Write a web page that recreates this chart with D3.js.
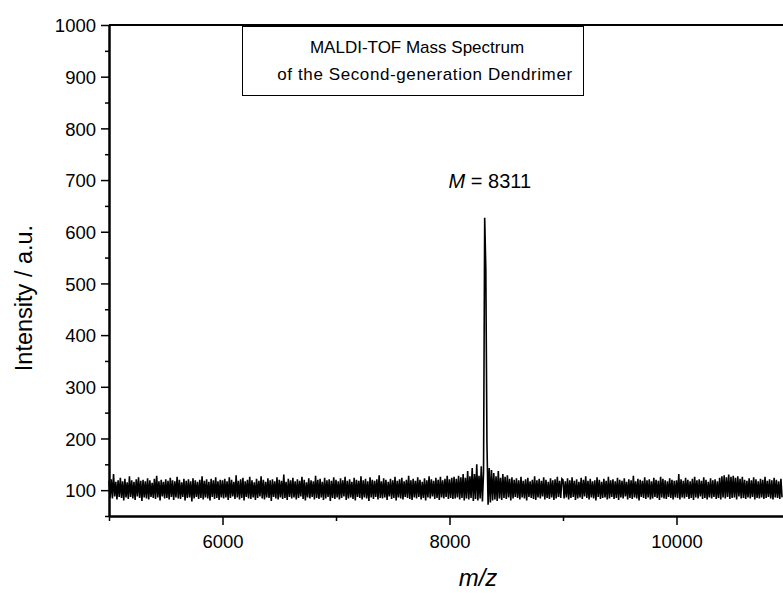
<!DOCTYPE html>
<html lang="en">
<head>
  <meta charset="UTF-8">
  <title>MALDI-TOF Mass Spectrum</title>
  <style>
    body { margin: 0; background: #fff; }
    svg { display: block; font-family: "Liberation Sans", Arial, Helvetica, sans-serif; }
    .axis path, .axis line { stroke: #000; }
    .axis path { stroke-width: 2px; }
    .axis line { stroke-width: 1.5px; }
    .axis text { fill: #000; font-size: 18.5px; }
    .trace { fill: none; stroke: #000; stroke-width: 1.6px; stroke-linejoin: miter; }
  </style>
</head>
<body>
<script src="https://d3js.org/d3.v7.min.js"></script>
<script>
// spectrum, one intensity every 10 m/z, split per 1000 m/z
const mzStart = 5000
const mzStep = 10

const mz5000 = [
  118,86,121,84,131,88,116,82,119,87,124,85,117,80,122,86,115,83,127,87,
  119,84,116,81,121,88,125,85,118,79,120,86,117,84,123,82,119,87,114,85,
  122,83,128,86,117,80,120,88,116,84,121,85,118,82,124,87,119,81,117,86,
  126,84,120,83,115,87,122,80,118,85,121,86,117,78,123,84,119,87,116,83,
  120,85,127,82,118,86,121,84,116,80,122,87,119,83,125,85,117,81,120,86
]
const mz6000 = [
  119,84,122,86,117,81,125,85,120,88,116,83,129,86,118,82,121,85,124,80,
  117,87,120,84,126,83,119,86,115,81,122,85,118,88,127,84,120,82,116,86,
  123,85,119,79,121,87,117,84,125,82,120,86,118,83,130,85,116,81,122,87,
  119,84,124,86,117,82,121,85,118,88,126,83,120,80,115,86,123,84,119,87,
  117,82,128,85,120,83,122,86,116,81,124,84,119,87,121,79,118,85,125,83
]
const mz7000 = [
  120,86,117,82,123,85,119,88,126,81,118,84,121,86,116,83,124,80,120,87,
  118,85,127,82,119,86,122,84,117,79,125,86,120,83,118,87,121,82,129,85,
  117,84,123,86,120,81,116,88,122,83,119,85,126,80,118,86,121,84,124,82,
  117,87,120,85,128,83,119,81,122,86,118,84,125,87,120,82,116,85,123,80,
  119,86,127,84,121,88,118,83,124,85,120,81,126,86,119,84,122,87,128,83
]
const mz8000 = [
  121,85,124,83,126,84,122,86,128,82,125,85,131,80,124,84,137,82,127,85,
  143,79,131,83,150,80,128,84,146,78,135,627,528,190,72,143,76,139,80,133,
  82,127,79,137,84,124,81,131,85,126,83,129,86,122,80,125,84,120,87,123,
  85,119,82,126,86,118,84,121,80,124,87,117,85,120,83,127,81,119,86,122,
  84,118,88,125,82,120,85,116,83,123,86,119,81,121,84,126,87,118,85,122
]
const mz9000 = [
  120,84,117,86,123,82,119,85,125,87,118,81,121,84,116,86,124,83,120,88,
  127,85,118,82,122,86,117,84,119,80,125,87,120,83,116,85,122,86,118,82,
  126,84,119,87,121,83,117,85,124,81,120,86,118,84,123,88,116,82,121,85,
  119,83,128,86,117,84,122,80,120,87,118,85,125,83,119,86,121,82,117,84,
  124,87,120,85,118,81,126,86,122,84,119,83,117,87,123,85,120,82,118,86
]
const mz10000 = [
  119,85,131,82,121,86,118,84,124,87,120,83,117,85,122,81,126,86,119,84,
  121,88,118,83,125,85,120,82,116,86,123,84,119,87,121,83,117,85,124,82,
  127,86,129,84,125,87,130,83,126,85,128,86,124,82,127,88,122,84,126,85,
  120,83,118,86,123,84,119,87,125,82,121,85,117,84,122,86,120,83,126,85,
  118,87,121,84,119,82,124,86,120,85,117,83,122,86
]

const xTicks = [6000, 8000, 10000]
const xMinor = [5000, 7000, 9000, 11000]
const yTicks = [100, 200, 300, 400, 500, 600, 700, 800, 900, 1000]
const yMinor = [50, 150, 250, 350, 450, 550, 650, 750, 850, 950]

const peakMz = 8311
const titleLines = ['MALDI-TOF Mass Spectrum', 'of the Second-generation Dendrimer']

const intensity = [].concat(mz5000, mz6000, mz7000, mz8000, mz9000, mz10000)
const spectrum = intensity.map((v, i) => ({ mz: mzStart + i * mzStep, v }))

const width = 783
const height = 593

const x = d3.scaleLinear().domain([5000, 11000]).range([109, 790])
const y = d3.scaleLinear().domain([50, 1000]).range([516, 25])

const svg = d3.select('body').append('svg')
  .attr('width', width)
  .attr('height', height)

// spectrum trace
svg.append('path')
  .datum(spectrum)
  .attr('class', 'trace')
  .attr('d', d3.line().x(d => x(d.mz)).y(d => y(d.v)))

// top frame line
svg.append('line')
  .attr('x1', x(5000)).attr('x2', x(11000))
  .attr('y1', y(1000)).attr('y2', y(1000))
  .attr('stroke', '#000').attr('stroke-width', 2)

// x axis
const gx = svg.append('g')
  .attr('class', 'axis')
  .attr('transform', `translate(0,${y(50)})`)
gx.append('g')
  .call(d3.axisBottom(x).tickValues(xMinor).tickSize(5).tickSizeOuter(0).tickFormat(''))
gx.append('g')
  .call(d3.axisBottom(x).tickValues(xTicks).tickSize(9).tickSizeOuter(0).tickFormat(d3.format('d')))
  .call(g => g.selectAll('text').attr('y', 19))

// y axis
const gy = svg.append('g')
  .attr('class', 'axis')
  .attr('transform', `translate(${x(5000)},0)`)
gy.append('g')
  .call(d3.axisLeft(y).tickValues(yMinor).tickSize(4).tickSizeOuter(0).tickFormat(''))
gy.append('g')
  .call(d3.axisLeft(y).tickValues(yTicks).tickSize(8).tickSizeOuter(0).tickFormat(d3.format('d')))
  .call(g => g.selectAll('text').attr('x', -13).attr('dy', '0.36em'))

// axis titles
svg.append('text')
  .attr('transform', 'translate(32,298) rotate(-90)')
  .attr('text-anchor', 'middle')
  .attr('font-size', 23.5)
  .text('Intensity / a.u.')

svg.append('text')
  .attr('x', 478)
  .attr('y', 586)
  .attr('text-anchor', 'middle')
  .attr('font-size', 24)
  .attr('font-style', 'italic')
  .text('m/z')

// title box
svg.append('rect')
  .attr('x', 242.5).attr('y', 26.5)
  .attr('width', 341).attr('height', 69)
  .attr('fill', '#fff').attr('stroke', '#000').attr('stroke-width', 1)

svg.selectAll('.title')
  .data(titleLines)
  .join('text')
  .attr('class', 'title')
  .attr('x', (d, i) => i ? 425 : 417)
  .attr('y', (d, i) => 53 + i * 27)
  .attr('text-anchor', 'middle')
  .attr('font-size', 17)
  .attr('letter-spacing', (d, i) => i ? 0.6 : 0)
  .text(d => d)

// peak label
const label = svg.append('text')
  .attr('x', x(peakMz) + 5)
  .attr('y', 188)
  .attr('text-anchor', 'middle')
  .attr('font-size', 20)
label.append('tspan').attr('font-style', 'italic').text('M')
label.append('tspan').text(' = ' + peakMz)
</script>
</body>
</html>
